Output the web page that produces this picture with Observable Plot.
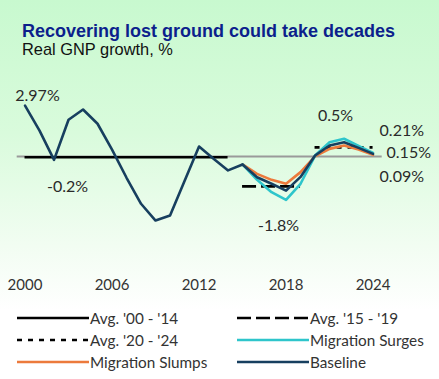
<!DOCTYPE html>
<html>
<head>
<meta charset="utf-8">
<script src="https://cdn.jsdelivr.net/npm/d3@7"></script>
<script src="https://cdn.jsdelivr.net/npm/@observablehq/plot@0.6"></script>
<style>
  html, body { margin: 0; padding: 0; }
  #frame {
    position: relative; width: 439px; height: 379px; overflow: hidden;
    background: linear-gradient(to bottom, #c8f9cf 0%, #d9fbdc 35%, #f2fdf2 65%, #ffffff 82%, #ffffff 100%);
    font-family: Lato, sans-serif;
  }
  #title { position: absolute; left: 22px; top: 21.5px; font: bold 18px/18px "Liberation Sans", Arial, sans-serif; color: #0c1f8c; white-space: nowrap; }
  #subtitle { position: absolute; left: 22px; top: 41.2px; font: 16.4px/16.4px "Liberation Sans", Arial, sans-serif; color: #111; white-space: nowrap; }
  #chart { position: absolute; left: 0; top: 62px; }
  .lg { position: absolute; height: 20px; display: flex; align-items: center; font: 15.3px/20px Lato, sans-serif; color: #333; white-space: nowrap; }
  .lg svg { display: block; margin-right: 1px; }
</style>
</head>
<body>
<div id="frame">
  <div id="title">Recovering lost ground could take decades</div>
  <div id="subtitle">Real GNP growth, %</div>
  <div id="chart"></div>
  <div id="legend"></div>
</div>
<script>
// ---- data ----
const years = [2000, 2001, 2002, 2003, 2004, 2005, 2006, 2007, 2008, 2009, 2010, 2011, 2012,
               2013, 2014, 2015, 2016, 2017, 2018, 2019, 2020, 2021, 2022, 2023, 2024];
const baseline = [2.97, 1.51, -0.2, 2.14, 2.74, 1.91, 0.4, -1.25, -2.77, -3.75, -3.46, -1.44, 0.58,
                  -0.14, -0.82, -0.47, -1.22, -1.6, -2.0, -1.2, 0.05, 0.64, 0.83, 0.5, 0.15];
const scenarioYears = [2015, 2016, 2017, 2018, 2019, 2020, 2021, 2022, 2023, 2024];
const surges = [-0.47, -1.37, -2.09, -2.54, -1.6, 0.05, 0.83, 1.03, 0.62, 0.21];
const slumps = [-0.47, -1.02, -1.37, -1.6, -0.92, 0.0, 0.44, 0.64, 0.4, 0.09];
const avgNames = ["Avg. '00 - '14", "Avg. '15 - '19", "Avg. '20 - '24"];
const avgStart = [2000, 2015, 2020];
const avgEnd = [2014, 2019, 2024];
const avgValue = [-0.05, -1.75, 0.53];
const xTicks = [2000, 2006, 2012, 2018, 2024];
const annText = ["2.97%", "-0.2%", "-1.8%", "0.5%", "0.21%", "0.15%", "0.09%"];
const annYear = [2000.86, 2002.93, 2017.48, 2021.41, 2024.45, 2024.93, 2024.45];
const annValue = [3.56, -1.8, -4.04, 2.39, 1.51, 0.19, -1.18];
const annAnchor = ["middle", "middle", "middle", "middle", "start", "start", "start"];

// ---- styles ----
const colors = { baseline: "#173f5f", surges: "#2ec5cb", slumps: "#ec7a3c", avg: "#000000", zero: "#9a9a9a" };
const avgDash = [null, "14,5", "5,6"];

// ---- tables ----
const baseRows = years.map((y, i) => ({ year: y, value: baseline[i] }));
const surgeRows = scenarioYears.map((y, i) => ({ year: y, value: surges[i] }));
const slumpRows = scenarioYears.map((y, i) => ({ year: y, value: slumps[i] }));
const avgRows = avgNames.map((n, i) => ({ name: n, x1: avgStart[i], x2: avgEnd[i], y: avgValue[i], dash: avgDash[i] }));
const annRows = annText.map((t, i) => ({ text: t, year: annYear[i], value: annValue[i], anchor: annAnchor[i] }));

const chart = Plot.plot({
  width: 439,
  height: 239,
  marginLeft: 16.7,
  marginRight: 57.3,
  marginTop: 25.5,
  marginBottom: 25.4,
  x: { domain: [1999.46, 2024.63] },
  y: { domain: [-7, 4], axis: null },
  style: { background: "transparent", fontFamily: "Lato, sans-serif", fontSize: "15px", color: "#333", overflow: "visible" },
  marks: [
    Plot.ruleY([0], { stroke: colors.zero, strokeWidth: 2 }),
    ...avgRows.map(r => Plot.ruleY([r], { x1: "x1", x2: "x2", y: "y", stroke: colors.avg, strokeWidth: 2.6, strokeDasharray: r.dash || undefined })),
    Plot.line(slumpRows, { x: "year", y: "value", stroke: colors.slumps, strokeWidth: 2.6 }),
    Plot.line(surgeRows, { x: "year", y: "value", stroke: colors.surges, strokeWidth: 2.6 }),
    Plot.line(baseRows, { x: "year", y: "value", stroke: colors.baseline, strokeWidth: 2.6 }),
    ...annRows.map(r => Plot.text([r], { x: "year", y: "value", text: "text", textAnchor: r.anchor, fontSize: 16, fill: "#2a2a2a" })),
    Plot.axisX(xTicks, { tickSize: 0, tickPadding: 3, tickFormat: d => String(d), fontSize: 15, fill: "#333" })
  ]
});
document.getElementById("chart").appendChild(chart);

// ---- legend ----
const legendItems = [
  { label: avgNames[0], color: colors.avg, dash: avgDash[0] },
  { label: avgNames[1], color: colors.avg, dash: avgDash[1] },
  { label: avgNames[2], color: colors.avg, dash: avgDash[2] },
  { label: "Migration Surges", color: colors.surges, dash: null },
  { label: "Migration Slumps", color: colors.slumps, dash: null },
  { label: "Baseline", color: colors.baseline, dash: null }
];
const colX = [17, 237];
const rowY = [318.3, 339.5, 361.5];
const legend = document.getElementById("legend");
legendItems.forEach((it, i) => {
  const div = document.createElement("div");
  div.className = "lg";
  div.style.left = colX[i % 2] + "px";
  div.style.top = (rowY[Math.floor(i / 2)] - 10) + "px";
  div.innerHTML = `<svg width="72" height="20"><line x1="0" x2="72" y1="10" y2="10" stroke="${it.color}" stroke-width="2.4" ${it.dash ? `stroke-dasharray="${it.dash}"` : ""}/></svg><span>${it.label}</span>`;
  legend.appendChild(div);
});
</script>
</body>
</html>
